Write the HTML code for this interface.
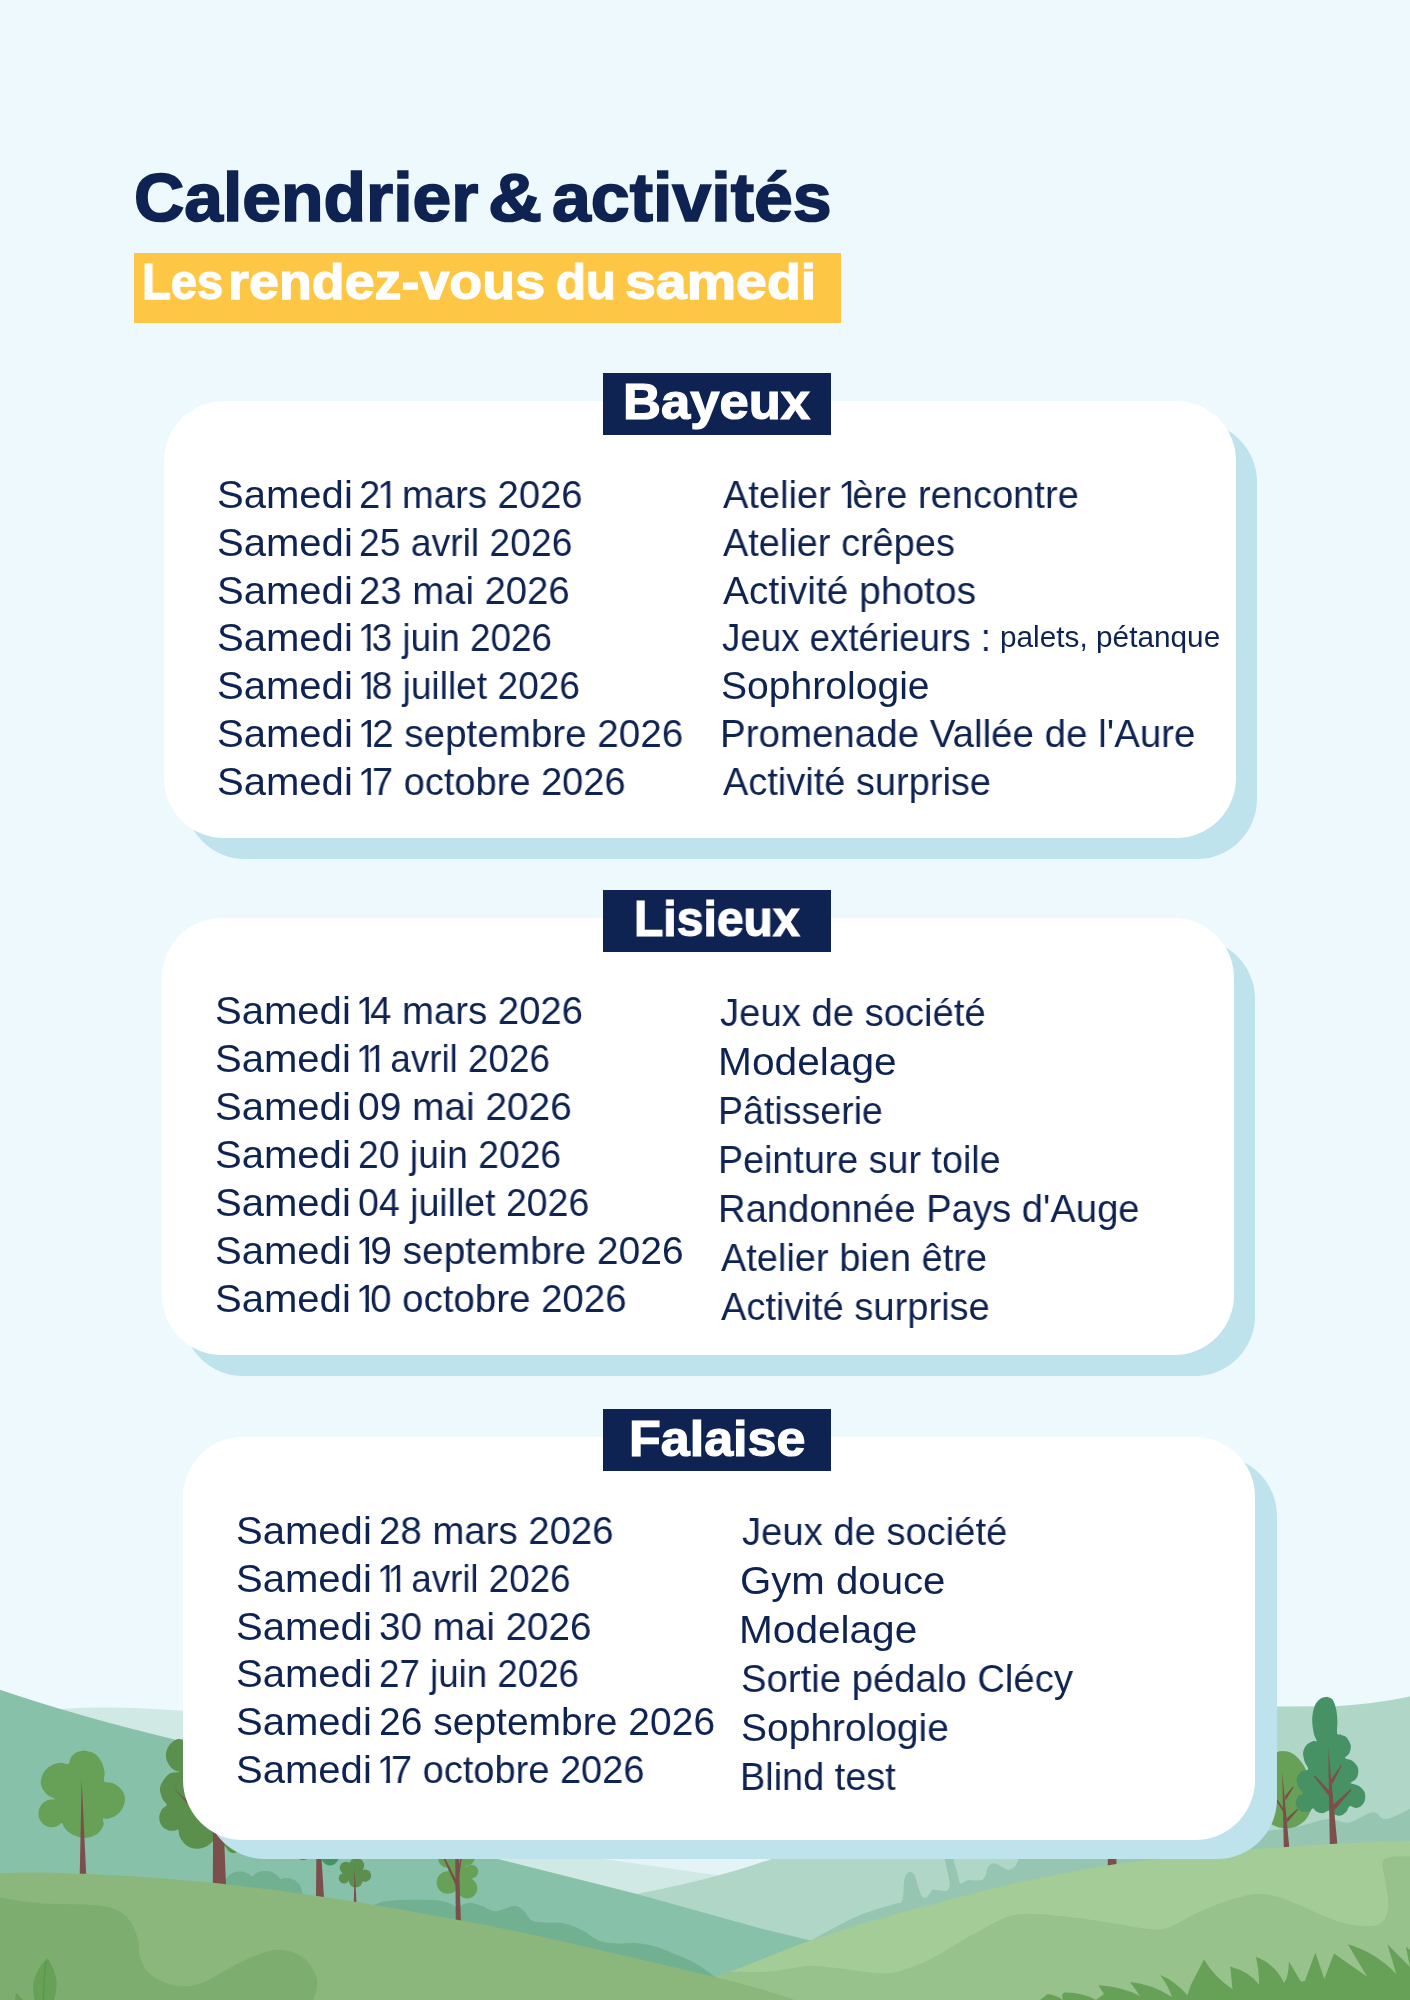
<!DOCTYPE html>
<html lang="fr"><head><meta charset="utf-8"><title>Calendrier &amp; activités</title>
<style>
html,body{margin:0;padding:0}
body{width:1410px;height:2000px;position:relative;overflow:hidden;background:#EEF9FE;font-family:"Liberation Sans",sans-serif}
.land{position:absolute;left:0;top:0}
.sh,.cd,.lb,.yl{position:absolute}
.sh{background:#BEE3EC;border-radius:60px}
.cd{background:#fff;border-radius:60px}
.lb{background:#0F2352}
.yl{background:#FDC745}
.t{position:absolute;white-space:nowrap;transform-origin:0 0;line-height:1;margin:0;font-weight:normal;will-change:transform}.t i{font-style:normal;display:inline-block;margin:0 -0.184em 0 -0.085em;clip-path:polygon(0 0,100% 0,100% .762em,.346em .762em,.346em 1em,.247em 1em,.247em .762em,0 .762em)}.b{font-weight:bold;-webkit-text-stroke:0.025em currentColor}
</style></head><body>
<svg class="land" width="1410" height="2000" viewBox="0 0 1410 2000">
<path d="M500,1845 L800,1845 L800,1900 L500,1900 Z" fill="#E4F3F6"/>
<path d="M30,1712 C70,1706.5 120,1705.5 190,1711.5 L420,1730 L420,1800 L30,1800 Z" fill="#D0E9E5"/>
<path d="M470,1845 L606.8,1859.4 L721,1875.7 L780,1885 L780,1960 L470,1960 Z" fill="#D0E9E5"/>
<path d="M1250,1706.5 L1335,1706.3 Q1375,1704 1410,1696.6 L1410,1900 L1250,1900 Z" fill="#B0D6C8"/>
<path d="M600,1901 L634,1894.5 Q715,1879 770,1859.4 L805,1845 L1160,1845 L1160,1960 L600,1960 Z" fill="#B0D6C8"/>
<path d="M1240.0,1834.0 C1245.8,1833.3 1265.0,1831.3 1275.0,1830.0 C1285.0,1828.7 1291.2,1827.8 1300.0,1826.0 C1308.8,1824.2 1319.8,1819.6 1328.0,1819.0 C1336.2,1818.4 1341.6,1823.5 1349.0,1822.4 C1356.4,1821.3 1366.4,1812.7 1372.6,1812.2 C1378.8,1811.7 1380.0,1819.9 1386.2,1819.3 C1392.4,1818.7 1406.0,1810.5 1410.0,1808.8 L1410.0,1870.0 L1240.0,1870.0 Z" fill="#96C6B1"/>
<path d="M800.0,1946.0 C801.8,1945.1 801.2,1945.5 810.6,1940.6 C820.0,1935.7 843.0,1922.4 856.6,1916.4 C870.2,1910.4 884.9,1906.8 892.3,1904.4 C899.7,1902.1 899.2,1903.9 901.0,1902.3 C902.8,1900.7 902.8,1898.0 903.3,1895.0 C903.8,1892.0 903.3,1887.3 903.8,1884.0 C904.2,1880.7 904.9,1877.0 906.0,1875.0 C907.1,1873.0 908.8,1871.7 910.2,1871.7 C911.6,1871.7 913.2,1872.6 914.5,1875.0 C915.8,1877.4 916.8,1882.5 918.0,1886.0 C919.2,1889.5 920.2,1894.1 921.7,1896.0 C923.2,1897.9 925.4,1897.7 926.8,1897.2 C928.2,1896.7 928.9,1894.3 930.0,1893.0 C931.1,1891.7 931.5,1890.0 933.2,1889.6 C934.9,1889.2 937.9,1890.3 940.0,1890.5 C942.1,1890.7 944.4,1891.6 946.0,1890.8 C947.6,1890.0 949.5,1888.8 949.8,1885.7 C950.0,1882.6 948.4,1876.5 947.5,1872.0 C946.6,1867.5 945.5,1863.0 944.7,1859.0 C944.0,1855.0 941.3,1849.8 943.0,1848.0 C944.7,1846.2 953.2,1846.2 955.0,1848.0 C956.8,1849.8 953.3,1855.0 953.6,1859.0 C953.9,1863.0 955.9,1868.0 957.0,1872.0 C958.1,1876.0 958.8,1881.5 960.0,1883.2 C961.2,1884.9 962.5,1882.5 964.0,1882.0 C965.5,1881.5 967.1,1880.3 968.9,1880.1 C970.7,1879.8 972.9,1880.5 975.0,1880.5 C977.1,1880.5 980.0,1880.9 981.7,1880.1 C983.5,1879.3 984.4,1877.8 985.5,1875.5 C986.6,1873.2 986.6,1868.6 988.1,1866.6 C989.6,1864.6 992.2,1863.3 994.4,1863.3 C996.5,1863.3 998.6,1865.4 1001.0,1866.5 C1003.4,1867.6 1006.2,1869.9 1008.5,1869.9 C1010.8,1869.9 1013.2,1868.4 1014.9,1866.6 C1016.6,1864.8 1017.2,1861.3 1018.7,1859.0 C1020.2,1856.7 1020.8,1853.5 1024.0,1853.0 C1027.2,1852.5 1031.8,1856.5 1037.8,1856.0 C1043.8,1855.5 1039.6,1851.8 1060.0,1850.0 C1080.4,1848.2 1143.3,1845.8 1160.0,1845.0 L1160.0,1960.0 L800.0,1960.0 Z" fill="#96C6B1"/>
<path d="M1108,1850 L1116,1850 L1116.7,1869 L1107.7,1869 Z" fill="#7C4F4B"/>
<path d="M1283,1751 C1301,1751 1313,1778 1312.5,1800 C1312,1818 1300,1828.3 1287,1828.3 C1272,1828.3 1258,1818 1256,1800 C1254,1776 1266,1751 1283,1751 Z" fill="#67A158"/><path d="M1282.2,1772 L1289.3,1847.5 L1283.8,1847.5 Z" fill="#7C4F4B"/><path d="M1276,1800.3 L1277.3,1799.5 L1285.3,1811 L1285.3,1815.5 Z" fill="#7C4F4B"/><path d="M1292.9,1786.5 L1293.5,1787.5 L1285.6,1800.5 L1285,1796 Z" fill="#7C4F4B"/><path d="M1297.4,1808.7 L1298,1809.8 L1287.2,1822.5 L1286.5,1818.5 Z" fill="#7C4F4B"/>
<path d="M1327.2,1696.8 C1328.1,1697.3 1331.3,1697.7 1332.8,1699.9 C1334.3,1702.0 1335.5,1706.0 1336.2,1709.5 C1337.0,1713.0 1337.2,1716.9 1337.4,1720.9 C1337.5,1724.8 1336.6,1731.0 1337.1,1733.3 C1337.7,1735.6 1339.2,1734.0 1340.8,1734.7 C1342.3,1735.4 1344.8,1735.5 1346.5,1737.3 C1348.1,1739.2 1350.3,1743.1 1350.8,1745.8 C1351.2,1748.6 1349.9,1751.7 1349.0,1753.8 C1348.0,1755.8 1344.6,1756.9 1345.1,1758.1 C1345.6,1759.2 1350.0,1759.2 1352.1,1760.8 C1354.2,1762.3 1356.9,1765.0 1357.8,1767.4 C1358.7,1769.8 1358.3,1773.2 1357.8,1775.3 C1357.3,1777.4 1356.1,1778.6 1355.0,1779.9 C1353.8,1781.1 1350.1,1782.0 1350.8,1783.0 C1351.4,1784.1 1356.6,1784.5 1358.9,1786.1 C1361.2,1787.7 1363.6,1790.0 1364.6,1792.3 C1365.6,1794.7 1365.4,1798.0 1364.8,1800.3 C1364.3,1802.6 1362.8,1804.7 1361.2,1806.0 C1359.7,1807.2 1357.5,1808.0 1355.5,1808.0 C1353.6,1808.0 1351.1,1805.6 1349.6,1806.2 C1348.1,1806.8 1347.9,1810.1 1346.5,1811.6 C1345.0,1813.2 1342.8,1815.1 1340.8,1815.6 C1338.8,1816.1 1336.4,1815.3 1334.5,1814.5 C1332.6,1813.6 1331.4,1810.7 1329.4,1810.5 C1327.4,1810.3 1324.8,1813.1 1322.6,1813.3 C1320.4,1813.5 1318.0,1812.5 1316.4,1811.6 C1314.8,1810.8 1314.2,1808.2 1313.0,1808.2 C1311.7,1808.2 1311.1,1811.2 1309.0,1811.6 C1306.9,1812.1 1302.7,1812.4 1300.5,1811.1 C1298.3,1809.7 1296.0,1806.1 1295.6,1803.7 C1295.2,1801.2 1297.0,1798.0 1298.2,1796.3 C1299.5,1794.6 1303.0,1795.0 1303.1,1793.5 C1303.2,1792.0 1299.6,1789.7 1298.6,1787.2 C1297.5,1784.8 1296.3,1781.3 1296.8,1778.7 C1297.2,1776.1 1299.2,1773.3 1301.1,1771.7 C1303.0,1770.1 1307.5,1770.9 1308.1,1769.2 C1308.7,1767.5 1305.5,1764.5 1304.7,1761.7 C1303.9,1758.9 1302.8,1755.5 1303.1,1752.6 C1303.4,1749.8 1305.0,1746.6 1306.7,1744.7 C1308.5,1742.8 1311.9,1741.7 1313.5,1741.0 C1315.2,1740.4 1316.7,1742.3 1316.7,1741.0 C1316.8,1739.8 1314.5,1737.1 1313.8,1733.3 C1313.0,1729.6 1312.0,1723.2 1312.2,1718.6 C1312.4,1713.9 1313.5,1708.8 1314.9,1705.5 C1316.3,1702.2 1318.3,1700.2 1320.4,1698.7 C1322.4,1697.3 1326.0,1697.1 1327.2,1696.8 Z" fill="#479264"/><path d="M1328.2,1747 L1337.4,1844.5 L1329.8,1844.5 Z" fill="#7C4F4B"/><path d="M1313.8,1776.2 L1315,1775.6 L1331.6,1793 L1331.6,1799.5 Z" fill="#7C4F4B"/><path d="M1341,1765 L1341.6,1766 L1331.8,1785 L1331,1779.5 Z" fill="#7C4F4B"/><path d="M1350.6,1789 L1351.3,1790.2 L1333.8,1811 L1333,1805 Z" fill="#7C4F4B"/>
<path d="M0,1689.8 Q80,1717 174.5,1739.4 L330,1795 L498,1859 L634,1893.2 L760,1928.3 L810.6,1940.6 L900,1964 L900,2000 L0,2000 Z" fill="#88C1A9"/>
<g fill="#71B091"><circle cx="239.7" cy="1888.3" r="16.7"/><circle cx="265.2" cy="1889.1" r="18.2"/><circle cx="286.5" cy="1893.6" r="15.7"/></g>
<path d="M372.0,1906.0 C373.3,1905.4 376.2,1903.5 380.0,1902.5 C383.8,1901.5 389.0,1900.8 395.0,1900.3 C401.0,1899.8 408.8,1899.8 416.0,1899.8 C423.2,1899.8 432.3,1899.9 438.0,1900.5 C443.7,1901.1 446.8,1902.4 450.0,1903.5 C453.2,1904.6 454.8,1906.8 457.0,1907.0 C459.2,1907.2 460.7,1905.2 463.0,1904.5 C465.3,1903.8 467.4,1902.5 470.6,1902.7 C473.8,1903.0 478.0,1904.6 482.0,1906.0 C486.0,1907.4 490.7,1910.8 494.5,1911.2 C498.3,1911.6 501.6,1909.4 505.0,1908.5 C508.4,1907.6 511.7,1905.4 514.9,1905.8 C518.1,1906.2 521.2,1908.6 524.0,1911.0 C526.8,1913.4 528.4,1918.5 531.9,1920.4 C535.4,1922.3 539.9,1922.0 545.0,1922.5 C550.1,1923.0 556.4,1921.8 562.6,1923.1 C568.8,1924.3 575.8,1927.0 582.0,1930.0 C588.2,1933.0 594.0,1938.7 600.0,1940.9 C606.0,1943.2 611.8,1943.1 618.0,1943.5 C624.2,1943.9 631.2,1942.7 637.4,1943.2 C643.6,1943.7 649.3,1944.9 655.0,1946.5 C660.7,1948.1 664.8,1950.0 671.5,1952.8 C678.2,1955.5 687.6,1958.9 695.0,1963.0 C702.4,1967.1 712.2,1974.9 715.7,1977.3 L715.7,1990.0 L372.0,1990.0 Z" fill="#71B091"/>
<path d="M84.7,1750.4 C86.4,1751.0 92.1,1751.8 94.9,1753.8 C97.7,1755.8 100.1,1759.2 101.7,1762.3 C103.3,1765.5 104.1,1769.3 104.6,1772.6 C105.0,1775.8 102.9,1779.7 104.4,1781.6 C105.9,1783.4 110.7,1782.1 113.6,1783.6 C116.6,1785.1 120.2,1787.9 122.1,1790.4 C124.0,1793.0 125.0,1795.8 125.0,1798.9 C125.0,1802.1 123.7,1806.3 122.1,1809.1 C120.5,1812.0 117.9,1814.3 115.3,1816.0 C112.8,1817.6 108.9,1818.4 106.8,1818.9 C104.8,1819.3 103.6,1817.6 103.1,1818.7 C102.5,1819.8 104.2,1822.9 103.4,1825.3 C102.6,1827.7 100.6,1831.0 98.3,1833.0 C96.0,1835.0 92.6,1836.5 89.8,1837.2 C87.0,1838.0 84.4,1838.1 81.3,1837.6 C78.2,1837.0 73.8,1835.4 71.1,1833.8 C68.3,1832.2 66.1,1829.7 64.6,1827.9 C63.1,1826.1 63.2,1823.2 61.9,1822.9 C60.5,1822.7 58.8,1825.5 56.6,1826.2 C54.4,1826.9 51.5,1827.7 48.9,1827.0 C46.4,1826.3 43.0,1824.2 41.3,1821.9 C39.5,1819.6 38.4,1816.2 38.4,1813.4 C38.4,1810.6 39.7,1807.1 41.3,1804.9 C42.9,1802.7 45.8,1801.1 48.1,1800.1 C50.3,1799.1 54.9,1799.8 54.7,1798.9 C54.6,1798.0 49.3,1796.5 47.2,1794.7 C45.1,1792.8 43.2,1790.3 42.1,1787.9 C41.1,1785.5 40.5,1783.0 40.9,1780.2 C41.4,1777.4 42.8,1773.4 44.7,1770.9 C46.6,1768.3 49.6,1766.3 52.3,1764.9 C55.0,1763.5 58.2,1762.9 60.9,1762.7 C63.5,1762.5 66.6,1764.8 68.3,1763.9 C70.0,1763.0 69.6,1759.2 71.1,1757.2 C72.5,1755.3 74.8,1753.3 77.0,1752.1 C79.3,1751.0 83.4,1750.7 84.7,1750.4 Z" fill="#67A158"/><path d="M81.7,1779 L86.2,1875 L79.7,1875 Z" fill="#7C4F4B"/>
<path d="M190.2,1741.9 C189.0,1741.5 185.3,1740.1 183.1,1739.7 C180.8,1739.3 178.8,1738.6 176.6,1739.4 C174.4,1740.2 171.6,1742.1 169.8,1744.5 C168.0,1746.9 166.2,1750.7 165.9,1753.8 C165.6,1757.0 166.7,1760.5 168.1,1763.2 C169.4,1765.9 172.2,1768.6 174.0,1770.0 C175.9,1771.4 179.7,1771.3 179.0,1771.9 C178.3,1772.4 172.5,1771.9 169.8,1773.4 C167.1,1774.9 164.6,1778.4 163.0,1781.1 C161.3,1783.8 159.9,1786.5 159.9,1789.6 C159.9,1792.7 161.8,1797.2 163.0,1799.8 C164.1,1802.3 166.9,1803.3 166.7,1804.9 C166.6,1806.5 163.4,1807.0 162.1,1809.1 C160.9,1811.3 159.2,1814.8 159.2,1817.7 C159.2,1820.5 160.5,1824.0 162.1,1826.2 C163.7,1828.3 166.7,1829.7 168.9,1830.4 C171.2,1831.1 174.2,1830.5 175.7,1830.4 C177.3,1830.3 177.6,1828.6 178.3,1829.7 C179.0,1830.9 178.6,1834.6 180.0,1837.2 C181.4,1839.9 184.0,1843.8 186.8,1845.7 C189.6,1847.7 193.8,1848.7 197.0,1848.8 C200.3,1849.0 203.5,1847.8 206.4,1846.6 C209.2,1845.4 211.1,1841.6 214.0,1841.5 C217.0,1841.3 221.7,1844.0 224.3,1845.7 C226.8,1847.4 227.4,1850.6 229.4,1851.7 C231.3,1852.8 234.2,1853.3 236.2,1852.6 C238.2,1851.8 239.6,1850.9 241.3,1847.4 C243.0,1844.0 246.4,1840.4 246.4,1832.1 C246.4,1823.9 247.8,1810.9 241.3,1798.1 C234.8,1785.3 215.7,1764.9 207.2,1755.5 C198.7,1746.2 193.0,1744.2 190.2,1741.9 Z" fill="#5B8F4E"/><path d="M213.2,1815 L223.2,1815 L226,1885 L212.8,1885 Z" fill="#7C4F4B"/><path d="M173.5,1788 L214,1826 L214,1834 Z" fill="#7C4F4B"/>
<g fill="#479264"><ellipse cx="330.0" cy="1853.0" rx="10.0" ry="12.5"/><circle cx="303.0" cy="1852.0" r="8.3"/></g><path d="M316.4,1850 L321,1850 L324,1898 L316,1898 Z" fill="#7C4F4B"/>
<g fill="#5B8F4E"><circle cx="356.6" cy="1865.5" r="7.6"/><circle cx="346.0" cy="1868.0" r="6.2"/><circle cx="365.0" cy="1875.7" r="6.2"/><circle cx="344.0" cy="1878.3" r="5.2"/><circle cx="355.7" cy="1880.5" r="7.0"/><circle cx="354.0" cy="1873.0" r="7.0"/></g><path d="M354.6,1868 L356.5,1902 L353.8,1902 Z" fill="#7C4F4B"/>
<g fill="#67A158"><circle cx="471.5" cy="1871.5" r="6.8"/><circle cx="447.9" cy="1882.5" r="11.3"/><circle cx="467.2" cy="1888.3" r="10.2"/><circle cx="448.0" cy="1858.0" r="10.0"/><circle cx="466.0" cy="1857.0" r="9.0"/><circle cx="458.0" cy="1872.0" r="10.0"/><circle cx="464.5" cy="1879.0" r="8.0"/></g><path d="M455.2,1850 L458.5,1850 L460.9,1921 L455.8,1921 Z" fill="#7C4F4B"/><path d="M441.8,1855 L443.2,1854.5 L457.6,1882.5 L456.6,1887.5 Z" fill="#7C4F4B"/><path d="M460.8,1855 L462.2,1855.5 L458.8,1878 L457.5,1874 Z" fill="#7C4F4B"/>
<path d="M690.0,1987.0 C694.3,1985.4 704.0,1981.8 715.7,1977.3 C727.4,1972.8 744.2,1966.1 760.0,1960.0 C775.8,1953.9 790.6,1947.5 810.6,1940.6 C830.6,1933.7 855.3,1925.7 880.0,1918.5 C904.7,1911.3 938.7,1902.5 958.7,1897.2 C978.7,1891.9 984.8,1890.3 1000.0,1886.8 C1015.2,1883.3 1033.3,1879.4 1050.0,1876.0 C1066.7,1872.6 1085.0,1869.0 1100.0,1866.5 C1115.0,1864.0 1123.3,1863.1 1140.0,1861.0 C1156.7,1858.9 1181.2,1856.0 1200.0,1854.0 C1218.8,1852.0 1240.2,1850.1 1253.0,1849.0 C1265.8,1847.9 1262.5,1848.5 1277.0,1847.6 C1291.5,1846.7 1317.8,1844.6 1340.0,1843.5 C1362.2,1842.4 1398.3,1841.3 1410.0,1840.9 L1410.0,2000.0 L690.0,2000.0 Z" fill="#A4CC97"/>
<path d="M715.7,1977.3 C717.7,1976.5 723.0,1973.2 727.9,1972.3 C732.8,1971.4 738.2,1972.0 745.0,1971.9 C751.8,1971.8 761.2,1972.1 768.7,1971.6 C776.2,1971.1 783.0,1969.7 790.0,1968.7 C797.0,1967.7 802.7,1965.8 811.0,1965.8 C819.3,1965.8 830.9,1967.5 840.0,1968.5 C849.1,1969.5 856.7,1971.3 865.5,1972.0 C874.3,1972.7 883.1,1974.4 892.8,1972.8 C902.4,1971.2 913.9,1966.7 923.4,1962.6 C932.9,1958.5 941.5,1952.8 950.0,1948.0 C958.5,1943.2 964.8,1938.8 974.5,1933.6 C984.2,1928.4 998.3,1919.9 1008.5,1916.6 C1018.7,1913.3 1023.6,1913.6 1035.5,1913.9 C1047.4,1914.2 1065.9,1916.5 1080.0,1918.3 C1094.1,1920.1 1110.0,1922.9 1120.0,1924.5 C1130.0,1926.1 1132.9,1927.2 1140.0,1927.9 C1147.1,1928.7 1156.1,1930.0 1162.8,1929.0 C1169.5,1928.0 1173.2,1925.2 1180.0,1922.0 C1186.8,1918.8 1194.3,1913.9 1203.5,1910.0 C1212.7,1906.1 1225.3,1901.2 1235.0,1898.5 C1244.7,1895.8 1252.4,1893.5 1261.7,1894.0 C1271.0,1894.5 1278.7,1897.0 1290.8,1901.4 C1302.9,1905.8 1322.3,1916.1 1334.4,1920.2 C1346.5,1924.3 1355.7,1925.5 1363.5,1926.0 C1371.3,1926.5 1376.9,1926.1 1381.0,1923.0 C1385.1,1919.9 1387.5,1914.2 1388.2,1907.2 C1388.9,1900.2 1386.3,1888.3 1385.3,1881.0 C1384.3,1873.7 1381.7,1867.5 1382.4,1863.5 C1383.1,1859.5 1385.0,1858.3 1389.6,1857.1 C1394.2,1855.9 1406.6,1856.4 1410.0,1856.3 L1410.0,2000.0 L715.7,2000.0 Z" fill="#97C28B"/>
<path d="M0.0,1873.3 C5.0,1873.2 20.0,1872.6 30.0,1872.6 C40.0,1872.5 48.3,1872.7 60.0,1873.0 C71.7,1873.3 86.8,1873.9 100.0,1874.5 C113.2,1875.1 122.3,1875.5 139.0,1876.7 C155.7,1877.9 179.8,1879.6 200.0,1881.5 C220.2,1883.4 246.7,1886.8 260.0,1888.3 C273.3,1889.8 263.3,1888.3 280.0,1890.7 C296.7,1893.1 330.5,1897.7 360.0,1902.5 C389.5,1907.3 430.3,1914.8 457.0,1919.7 C483.7,1924.6 496.2,1927.0 520.0,1932.0 C543.8,1937.0 567.4,1942.5 600.0,1950.0 C632.6,1957.5 689.0,1970.8 715.7,1977.3 C742.4,1983.8 746.8,1985.2 760.0,1989.0 C773.2,1992.8 789.2,1998.2 795.0,2000.0 L795.0,2000.0 L0.0,2000.0 Z" fill="#8BB77D"/>
<path d="M0.0,1897.4 C4.2,1898.1 16.5,1900.4 25.0,1901.5 C33.5,1902.6 41.1,1903.3 51.0,1903.8 C60.9,1904.3 74.4,1904.0 84.2,1904.6 C94.0,1905.2 102.6,1905.4 109.8,1907.6 C117.0,1909.8 122.9,1912.8 127.6,1917.9 C132.3,1923.0 135.8,1931.5 137.9,1938.3 C140.0,1945.1 137.9,1952.3 140.4,1958.7 C142.9,1965.1 146.8,1972.0 153.2,1976.6 C159.6,1981.2 170.2,1985.4 178.7,1986.3 C187.2,1987.2 193.6,1985.9 204.2,1981.7 C214.8,1977.5 230.6,1966.5 242.5,1961.2 C254.4,1955.9 265.9,1950.7 275.7,1949.8 C285.5,1948.9 294.6,1952.1 301.2,1956.1 C307.8,1960.1 312.7,1968.7 315.3,1974.0 C317.9,1979.3 317.4,1983.7 317.0,1988.0 C316.6,1992.3 313.7,1998.0 313.0,2000.0 L313.0,2000.0 L0.0,2000.0 Z" fill="#7EAE6F"/>
<path d="M47.4,1957.9 C39,1966 33,1977 33,1988 C33,1993 33.7,1997 34.5,2000 L54,2000 C55.8,1995 56.6,1989 56.6,1983 C56.6,1974 52,1965 47.4,1957.9 Z" fill="#67A158"/>
<path d="M46.4,1961 C44.5,1973 43.6,1987 43.4,2000" stroke="#5B9450" stroke-width="1.3" fill="none"/>
<path d="M16.2,1993 L23.2,2000 L14.9,2000 Z" fill="#67A158"/>
<path d="M1040,2000 L1047.7,1994.1 Q1056,1995 1063,2000 L1062,1995 L1064.3,1992.5 Q1082,1992 1096,2000 L1104,1994 L1098.3,1985.3 Q1120,1986 1140,1996 L1130.1,1982 Q1152,1984 1172,1997 Q1168,1985 1160.2,1975 Q1175,1981 1187.4,1995.2 Q1190,1985 1196,1975 L1204,1959.6 Q1215,1978 1232.5,1989.2 L1230.2,1966.5 Q1250,1972 1259.3,1985 Q1259,1970 1256,1956.8 Q1275,1964 1284.2,1983.1 Q1289,1975 1288.9,1961.5 L1300.8,1981.4 L1304.9,1980.9 L1315.4,1952.6 L1324.3,1978.9 L1334,1953.5 L1367.2,1976.7 L1347.8,1944.3 Q1375,1952 1396.2,1973.9 L1387.4,1944.3 L1410,1967 L1405.9,1946.8 L1410,1950 L1410,2000 Z" fill="#67A158"/>
</svg>
<div class="yl" style="left:134.3px;top:252.9px;width:706.7px;height:69.9px"></div>
<div class="sh" style="left:185px;top:422px;width:1072px;height:437px"></div>
<div class="sh" style="left:183px;top:939px;width:1072px;height:437px"></div>
<div class="sh" style="left:204.5px;top:1456px;width:1072px;height:403px"></div>
<div class="cd" style="left:164px;top:401px;width:1072px;height:437px"></div>
<div class="cd" style="left:162px;top:918px;width:1072px;height:437px"></div>
<div class="cd" style="left:183px;top:1437px;width:1072px;height:403px"></div>
<div class="lb" style="left:603px;top:373px;width:228px;height:62px"></div>
<div class="lb" style="left:603px;top:890px;width:228px;height:61.5px"></div>
<div class="lb" style="left:603px;top:1409px;width:228px;height:62px"></div>
<h1 class="t b" style="left:0;top:163.03px;font-size:69px;color:#0F2352">
<span class="t b" style="left:134.28px;top:0;transform:scaleX(1.0089)">Calendrier</span> 
<span class="t b" style="left:487.83px;top:0;transform:scaleX(1.0851)">&amp;</span> 
<span class="t b" style="left:551.99px;top:0;transform:scaleX(1.0124)">activités</span> 
</h1>
<h2 class="t b" style="left:0;top:257.45px;font-size:50px;color:#FFFFFF">
<span class="t b" style="left:141.73px;top:0;transform:scaleX(0.9431)">Les</span> 
<span class="t b" style="left:228.19px;top:0;transform:scaleX(1.0766)">rendez-vous</span> 
<span class="t b" style="left:555.52px;top:0;transform:scaleX(0.9787)">du</span> 
<span class="t b" style="left:625.29px;top:0;transform:scaleX(1.1100)">samedi</span> 
</h2>
<h3 class="t b" style="left:623.04px;top:377.25px;font-size:49.3px;color:#FFFFFF;transform:scaleX(1.0660)">Bayeux</h3>
<h3 class="t b" style="left:633.98px;top:894.35px;font-size:49.3px;color:#FFFFFF;transform:scaleX(0.9750)">Lisieux</h3>
<h3 class="t b" style="left:628.77px;top:1413.55px;font-size:49.3px;color:#FFFFFF;transform:scaleX(1.0552)">Falaise</h3>
<div class="t" style="left:0;top:474.99px;font-size:39px;color:#0F2352">
<span class="t" style="left:217.10px;top:0;transform:scaleX(1.0269)">Samedi</span> 
<span class="t" style="left:359.37px;top:0;transform:scaleX(0.9805)">2<i>1</i> mars 2026</span> 
</div>
<div class="t" style="left:0;top:522.79px;font-size:39px;color:#0F2352">
<span class="t" style="left:217.10px;top:0;transform:scaleX(1.0269)">Samedi</span> 
<span class="t" style="left:359.42px;top:0;transform:scaleX(0.9553)">25 avril 2026</span> 
</div>
<div class="t" style="left:0;top:570.59px;font-size:39px;color:#0F2352">
<span class="t" style="left:217.10px;top:0;transform:scaleX(1.0269)">Samedi</span> 
<span class="t" style="left:359.37px;top:0;transform:scaleX(0.9814)">23 mai 2026</span> 
</div>
<div class="t" style="left:0;top:618.39px;font-size:39px;color:#0F2352">
<span class="t" style="left:217.10px;top:0;transform:scaleX(1.0269)">Samedi</span> 
<span class="t" style="left:360.82px;top:0;transform:scaleX(0.9457)"><i>1</i>3 juin 2026</span> 
</div>
<div class="t" style="left:0;top:666.19px;font-size:39px;color:#0F2352">
<span class="t" style="left:217.10px;top:0;transform:scaleX(1.0269)">Samedi</span> 
<span class="t" style="left:360.82px;top:0;transform:scaleX(0.9510)"><i>1</i>8 juillet 2026</span> 
</div>
<div class="t" style="left:0;top:713.99px;font-size:39px;color:#0F2352">
<span class="t" style="left:217.10px;top:0;transform:scaleX(1.0269)">Samedi</span> 
<span class="t" style="left:360.80px;top:0;transform:scaleX(0.9895)"><i>1</i>2 septembre 2026</span> 
</div>
<div class="t" style="left:0;top:761.79px;font-size:39px;color:#0F2352">
<span class="t" style="left:217.10px;top:0;transform:scaleX(1.0269)">Samedi</span> 
<span class="t" style="left:360.80px;top:0;transform:scaleX(0.9748)"><i>1</i>7 octobre 2026</span> 
</div>
<div class="t" style="left:723.00px;top:474.99px;font-size:39px;color:#0F2352;transform:scaleX(0.9758)">Atelier <i>1</i>ère rencontre</div>
<div class="t" style="left:723.00px;top:522.79px;font-size:39px;color:#0F2352;transform:scaleX(0.9724)">Atelier crêpes</div>
<div class="t" style="left:723.00px;top:570.59px;font-size:39px;color:#0F2352;transform:scaleX(0.9973)">Activité photos</div>
<div class="t" style="left:722.27px;top:618.39px;font-size:39px;color:#0F2352;transform:scaleX(0.9400)">Jeux extérieurs :</div>
<div class="t" style="left:721.05px;top:666.19px;font-size:39px;color:#0F2352;transform:scaleX(1.0020)">Sophrologie</div>
<div class="t" style="left:720.04px;top:713.99px;font-size:39px;color:#0F2352;transform:scaleX(0.9874)">Promenade Vallée de l'Aure</div>
<div class="t" style="left:723.00px;top:761.79px;font-size:39px;color:#0F2352;transform:scaleX(0.9736)">Activité surprise</div>
<div class="t" style="left:1000.35px;top:623.25px;font-size:29px;color:#0F2352;transform:scaleX(1.0268)">palets, pétanque</div>
<div class="t" style="left:0;top:990.99px;font-size:39px;color:#0F2352">
<span class="t" style="left:215.20px;top:0;transform:scaleX(1.0269)">Samedi</span> 
<span class="t" style="left:358.90px;top:0;transform:scaleX(0.9826)"><i>1</i>4 mars 2026</span> 
</div>
<div class="t" style="left:0;top:1038.94px;font-size:39px;color:#0F2352">
<span class="t" style="left:215.20px;top:0;transform:scaleX(1.0269)">Samedi</span> 
<span class="t" style="left:358.92px;top:0;transform:scaleX(0.9432)"><i>1</i><i>1</i> avril 2026</span> 
</div>
<div class="t" style="left:0;top:1086.89px;font-size:39px;color:#0F2352">
<span class="t" style="left:215.20px;top:0;transform:scaleX(1.0269)">Samedi</span> 
<span class="t" style="left:357.85px;top:0;transform:scaleX(0.9960)">09 mai 2026</span> 
</div>
<div class="t" style="left:0;top:1134.84px;font-size:39px;color:#0F2352">
<span class="t" style="left:215.20px;top:0;transform:scaleX(1.0269)">Samedi</span> 
<span class="t" style="left:357.52px;top:0;transform:scaleX(0.9558)">20 juin 2026</span> 
</div>
<div class="t" style="left:0;top:1182.79px;font-size:39px;color:#0F2352">
<span class="t" style="left:215.20px;top:0;transform:scaleX(1.0269)">Samedi</span> 
<span class="t" style="left:357.91px;top:0;transform:scaleX(0.9611)">04 juillet 2026</span> 
</div>
<div class="t" style="left:0;top:1230.74px;font-size:39px;color:#0F2352">
<span class="t" style="left:215.20px;top:0;transform:scaleX(1.0269)">Samedi</span> 
<span class="t" style="left:358.89px;top:0;transform:scaleX(0.9966)"><i>1</i>9 septembre 2026</span> 
</div>
<div class="t" style="left:0;top:1278.69px;font-size:39px;color:#0F2352">
<span class="t" style="left:215.20px;top:0;transform:scaleX(1.0269)">Samedi</span> 
<span class="t" style="left:358.90px;top:0;transform:scaleX(0.9859)"><i>1</i>0 octobre 2026</span> 
</div>
<div class="t" style="left:720.24px;top:992.99px;font-size:39px;color:#0F2352;transform:scaleX(0.9806)">Jeux de société</div>
<div class="t" style="left:717.87px;top:1041.95px;font-size:39px;color:#0F2352;transform:scaleX(1.0431)">Modelage</div>
<div class="t" style="left:718.11px;top:1090.91px;font-size:39px;color:#0F2352;transform:scaleX(0.9626)">Pâtisserie</div>
<div class="t" style="left:718.10px;top:1139.87px;font-size:39px;color:#0F2352;transform:scaleX(0.9656)">Peinture sur toile</div>
<div class="t" style="left:718.06px;top:1188.83px;font-size:39px;color:#0F2352;transform:scaleX(0.9797)">Randonnée Pays d'Auge</div>
<div class="t" style="left:721.00px;top:1237.79px;font-size:39px;color:#0F2352;transform:scaleX(0.9737)">Atelier bien être</div>
<div class="t" style="left:721.00px;top:1286.75px;font-size:39px;color:#0F2352;transform:scaleX(0.9765)">Activité surprise</div>
<div class="t" style="left:0;top:1510.99px;font-size:39px;color:#0F2352">
<span class="t" style="left:236.40px;top:0;transform:scaleX(1.0269)">Samedi</span> 
<span class="t" style="left:378.66px;top:0;transform:scaleX(0.9837)">28 mars 2026</span> 
</div>
<div class="t" style="left:0;top:1558.77px;font-size:39px;color:#0F2352">
<span class="t" style="left:236.40px;top:0;transform:scaleX(1.0269)">Samedi</span> 
<span class="t" style="left:380.12px;top:0;transform:scaleX(0.9412)"><i>1</i><i>1</i> avril 2026</span> 
</div>
<div class="t" style="left:0;top:1606.55px;font-size:39px;color:#0F2352">
<span class="t" style="left:236.40px;top:0;transform:scaleX(1.0269)">Samedi</span> 
<span class="t" style="left:378.85px;top:0;transform:scaleX(0.9895)">30 mai 2026</span> 
</div>
<div class="t" style="left:0;top:1654.33px;font-size:39px;color:#0F2352">
<span class="t" style="left:236.40px;top:0;transform:scaleX(1.0269)">Samedi</span> 
<span class="t" style="left:378.75px;top:0;transform:scaleX(0.9410)">27 juin 2026</span> 
</div>
<div class="t" style="left:0;top:1702.11px;font-size:39px;color:#0F2352">
<span class="t" style="left:236.40px;top:0;transform:scaleX(1.0269)">Samedi</span> 
<span class="t" style="left:378.63px;top:0;transform:scaleX(0.9997)">26 septembre 2026</span> 
</div>
<div class="t" style="left:0;top:1749.89px;font-size:39px;color:#0F2352">
<span class="t" style="left:236.40px;top:0;transform:scaleX(1.0269)">Samedi</span> 
<span class="t" style="left:380.10px;top:0;transform:scaleX(0.9744)"><i>1</i>7 octobre 2026</span> 
</div>
<div class="t" style="left:741.74px;top:1512.49px;font-size:39px;color:#0F2352;transform:scaleX(0.9791)">Jeux de société</div>
<div class="t" style="left:740.45px;top:1561.35px;font-size:39px;color:#0F2352;transform:scaleX(1.0301)">Gym douce</div>
<div class="t" style="left:739.38px;top:1610.21px;font-size:39px;color:#0F2352;transform:scaleX(1.0407)">Modelage</div>
<div class="t" style="left:740.59px;top:1659.07px;font-size:39px;color:#0F2352;transform:scaleX(0.9816)">Sortie pédalo Clécy</div>
<div class="t" style="left:740.56px;top:1707.93px;font-size:39px;color:#0F2352;transform:scaleX(0.9986)">Sophrologie</div>
<div class="t" style="left:739.59px;top:1756.79px;font-size:39px;color:#0F2352;transform:scaleX(0.9710)">Blind test</div>
</body></html>
